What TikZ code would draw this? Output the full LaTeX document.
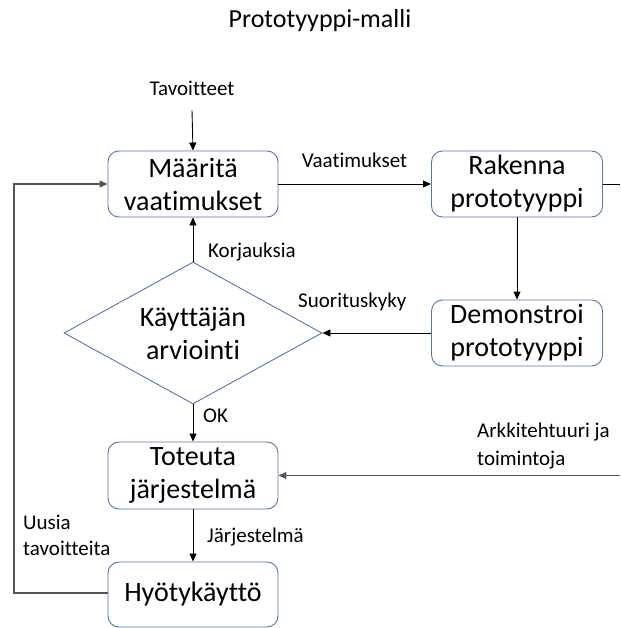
\documentclass[tikz,border=0pt]{standalone}
\usepackage{fontspec}
\setmainfont{Carlito}[Ligatures={NoCommon}, RawFeature={-liga}]
\usetikzlibrary{arrows.meta,shapes.geometric}
\definecolor{boxblue}{HTML}{5475B0}
\definecolor{loopgray}{HTML}{555555}
\tikzset{
  x=1pt, y=-1pt,
  stepbox/.style={draw=boxblue, line width=0.9pt, rounded corners=11pt, fill=white,
    minimum width=170pt, minimum height=66pt, align=center, inner sep=0pt,
    font=\fontsize{28}{33}\selectfont},
  decision/.style={draw=boxblue, line width=0.9pt, diamond, shape aspect=1.8,
    minimum width=258pt, minimum height=142pt, align=center, inner sep=0pt,
    font=\fontsize{28}{33}\selectfont},
  lbl/.style={font=\fontsize{21}{27}\selectfont, inner sep=0pt, align=left},
  arr/.style={line width=0.9pt, -{Triangle[length=8pt,width=7pt]}},
  plain/.style={line width=0.9pt},
  looparr/.style={draw=loopgray, line width=1.2pt, -{Triangle[length=8pt,width=7pt]}},
}
\begin{document}
\begin{tikzpicture}
\useasboundingbox (0,0) rectangle (620,628);
\node[font=\fontsize{26}{30}\selectfont, anchor=base, inner sep=0pt] (title) at (320,28) {Prototyyppi-malli};

\node[stepbox] (maar) at (193,184) {Määritä\\vaatimukset};
\node[stepbox, minimum width=171pt] (rak) at (517,184) {Rakenna\\prototyyppi};
\node[stepbox, minimum width=171pt] (demo) at (517,333) {Demonstroi\\prototyyppi};
\node[decision] (eval) at (193,333) {Käyttäjän\\arviointi};
\node[stepbox, minimum height=67pt] (tot) at (193,475.5) {Toteuta\\järjestelmä};
\node[stepbox, minimum height=65pt] (hyo) at (193,594.5) {Hyötykäyttö};

\node[lbl, anchor=base] (tav) at (192,96) {Tavoitteet};
\node[lbl, anchor=base] (lvaat) at (354.5,168) {Vaatimukset};
\node[lbl, anchor=base west] (lkorj) at (208,257) {Korjauksia};
\node[lbl, anchor=base west] (lsuor) at (298,307) {Suorituskyky};
\node[lbl, anchor=base west] (lok) at (203,422) {OK};
\node[lbl, anchor=west, font=\fontsize{21}{28}\selectfont] (larch) at (477,446) {Arkkitehtuuri ja\\toimintoja};
\node[lbl, anchor=base west] (ljarj) at (207,542) {Järjestelmä};
\node[lbl, anchor=west, font=\fontsize{21}{26}\selectfont] (luus) at (23,535) {Uusia\\tavoitteita};

\coordinate (rout) at (620,184);
\coordinate (ain) at (620,475.5);
\coordinate (lc1) at (14,593);
\coordinate (lc2) at (14,184);

\draw[arr] (tav.south) ++(0,14) -- (maar.north);
\draw[arr] (maar.east) -- (rak.west);
\draw[plain] (rak.east) -- (rout);
\draw[arr] (rak.south) -- (demo.north);
\draw[arr] (demo.west) -- (eval.east);
\draw[arr] (eval.north) -- (maar.south);
\draw[arr] (eval.south) -- (tot.north);
\draw[looparr] (ain) -- (tot.east);
\draw[arr] (tot.south) -- (hyo.north);
\draw[looparr] (hyo.west |- lc1) -- (lc1) -- (lc2) -- (maar.west);
\end{tikzpicture}
\end{document}
